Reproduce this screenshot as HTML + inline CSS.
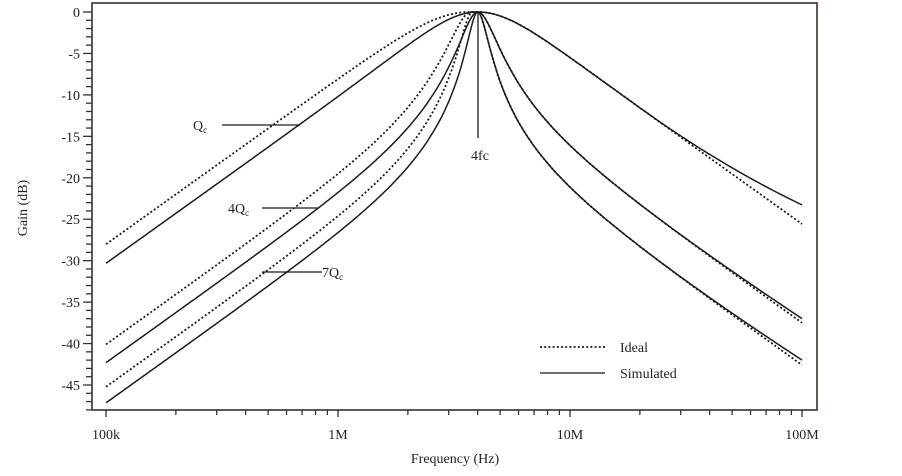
<!DOCTYPE html>
<html><head><meta charset="utf-8"><style>
html,body{margin:0;padding:0;background:#fff;}
svg text{font-family:"Liberation Serif",serif;fill:#222;}
</style></head><body>
<svg id="s" width="902" height="471" xmlns="http://www.w3.org/2000/svg"></svg>
<script>
const s=document.getElementById('s');
let h='';
const X0=106,DX=232,Y0=12,PY=(385-12)/45;
const xf=f=>X0+DX*(Math.log10(f)-5);
const yg=g=>Y0-g*PY;
h+=`<rect x="92" y="3" width="725" height="407" fill="none" stroke="#3a302c" stroke-width="1.6"/>`;
for(let g=0;g>=-48;g--){const y=yg(g);const maj=g%5==0;
h+=`<line x1="${maj?83:86}" y1="${y}" x2="92" y2="${y}" stroke="#3a302c" stroke-width="1.3"/>`;
if(maj&&g>=-45)h+=`<text x="80" y="${y+5}" font-size="14" text-anchor="end">${g}</text>`;}
for(let d=5;d<=8;d++)for(let m=1;m<=9;m++){const f=m*Math.pow(10,d);if(f>1e8)break;const x=xf(f);
h+=`<line x1="${x}" y1="410" x2="${x}" y2="${m==1?417:415}" stroke="#3a302c" stroke-width="1.3"/>`;}
[['100k',1e5],['1M',1e6],['10M',1e7],['100M',1e8]].forEach(([t,f])=>h+=`<text x="${xf(f)}" y="439" font-size="14" text-anchor="middle">${t}</text>`);
h+=`<text x="455" y="463" font-size="14" text-anchor="middle">Frequency (Hz)</text>`;
h+=`<text transform="translate(27,208) rotate(-90)" font-size="14" text-anchor="middle">Gain (dB)</text>`;
function curve(fL,QL,QR,dlt,dash){let p='';const fR=4e6;
for(let i=0;i<=700;i++){const f=Math.pow(10,5+3*i/700);let g;
if(f<fL){const r=fL/f-f/fL;g=-10*Math.log10(1+QL*QL*r*r);}
else if(f<fR){g=0;}
else{const r=f/fR-fR/f;g=-10*Math.log10(1+QR*QR*r*r);const t=Math.max(0,Math.log10(f/2e7)/Math.log10(5));g+=dlt*t*t;}
p+=(i?'L':'M')+xf(f).toFixed(1)+','+yg(g).toFixed(1);}
h+=`<path d="${p}" fill="none" stroke="#1a1a1a" stroke-width="${dash?1.8:1.5}" ${dash?'stroke-dasharray="2,2.2"':''}/>`;}
curve(3.7e6,0.68,0.76,0,1);curve(4e6,0.82,0.76,2.3,0);
curve(3.75e6,2.7,3.0,0,1);curve(4e6,3.26,3.0,0.5,0);
curve(3.8e6,4.8,5.4,0,1);curve(4e6,5.7,5.4,0.6,0);
const L=(a,b,c,d)=>h+=`<line x1="${a}" y1="${b}" x2="${c}" y2="${d}" stroke="#1a1a1a" stroke-width="1.3"/>`;
L(222,125,300,125);h+=`<text x="193" y="130" font-size="14">Q<tspan font-size="9" dy="3">c</tspan></text>`;
L(262,208,318,208);h+=`<text x="228" y="213" font-size="14">4Q<tspan font-size="9" dy="3">c</tspan></text>`;
L(262,272,322,272);h+=`<text x="322" y="277" font-size="14">7Q<tspan font-size="9" dy="3">c</tspan></text>`;
L(478,12,478,138);h+=`<text x="480" y="160" font-size="14" text-anchor="middle">4fc</text>`;
h+=`<line x1="540" y1="347" x2="605" y2="347" stroke="#1a1a1a" stroke-width="1.8" stroke-dasharray="2,2.2"/>`;
h+=`<text x="620" y="352" font-size="14">Ideal</text>`;
L(540,373,605,373);h+=`<text x="620" y="378" font-size="14">Simulated</text>`;
s.innerHTML=h;
</script>
</body></html>
